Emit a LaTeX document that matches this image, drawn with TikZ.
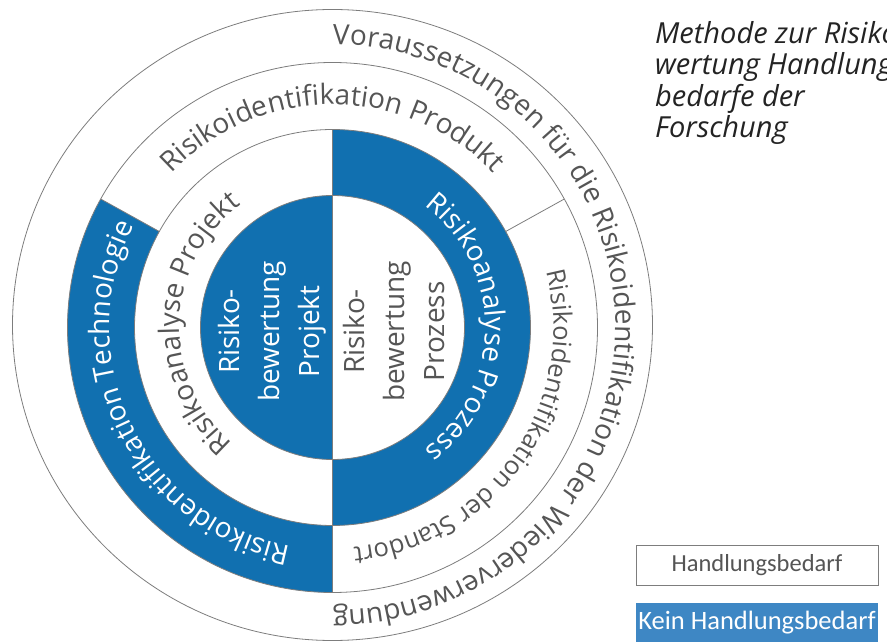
\documentclass[tikz,border=0pt]{standalone}
\usepackage{fontspec}
\setmainfont{Open Sans}
\newfontfamily\legendfont{Carlito}
\usetikzlibrary{decorations.text}
\definecolor{ringblue}{RGB}{17,112,176}
\definecolor{legendblue}{RGB}{62,135,196}
\definecolor{txtgray}{RGB}{85,85,85}
\definecolor{linegray}{RGB}{125,125,125}
\definecolor{titlegray}{RGB}{35,35,35}
\newcommand\ringfont{\fontsize{28}{34}\selectfont}
\newcommand\smallringfont{\fontsize{25.5}{31}\selectfont}
\begin{document}
\begin{tikzpicture}[x=1pt,y=1pt,
  segline/.style={draw=linegray, line width=0.8pt},
  ringtext/.style 2 args={decorate, decoration={text along path,
      text align=center, text color=#1, text={|\ringfont|#2}}},
  smallringtext/.style 2 args={decorate, decoration={text along path,
      text align=center, text color=#1, text={|\smallringfont|#2}}},
  coretext/.style={rotate=90, align=center, inner sep=0pt,
      font=\fontsize{28}{40}\selectfont},
  legbox/.style={minimum width=242pt, minimum height=40pt, inner sep=0pt,
      font=\legendfont\fontsize{24.5}{28}\selectfont}
]
\useasboundingbox (0,0) rectangle (887,641);

\begin{scope}[shift={(332.5,313.5)}]
  % blue segments
  \fill[ringblue] (151:265) arc[start angle=151, end angle=270, radius=265]
     -- (270:198) arc[start angle=270, end angle=151, radius=198] -- cycle;
  \fill[ringblue] (-90:198) arc[start angle=-90, end angle=90, radius=198]
     -- (90:132) arc[start angle=90, end angle=-90, radius=132] -- cycle;
  \fill[ringblue] (0,0) -- (90:132) arc[start angle=90, end angle=270, radius=132] -- cycle;

  % ring outlines and dividers
  \draw[segline] (0,0) circle[radius=132];
  \draw[segline] (0,0) circle[radius=198];
  \draw[segline] (0,0) circle[radius=265];
  \draw[segline] (0,2.5) ellipse[x radius=320, y radius=315.5];
  \draw[segline] (90:198) -- (270:265);
  \draw[segline] (151:198) -- (151:265);
  \draw[segline] (29:198) -- (29:265);

  % texts set along the rings
  \path[ringtext={txtgray}{Voraussetzungen für die Risikoidentifikation der Wiederverwendung}]
     (100:283) arc[start angle=100, end angle=-100, radius=283];
  \path[ringtext={txtgray}{Risikoidentifikation Produkt}]
     (150:223) arc[start angle=150, end angle=30, radius=223];
  \path[smallringtext={txtgray}{Risikoidentifikation der Standort}]
     (25:221) arc[start angle=25, end angle=-95, radius=221];
  \path[ringtext={white}{Risikoidentifikation Technologie}]
     (266:223) arc[start angle=266, end angle=146, radius=223];
  \path[ringtext={txtgray}{Risikoanalyse Projekt}]
     (240:153) arc[start angle=240, end angle=116, radius=153];
  \path[ringtext={white}{Risikoanalyse Prozess}]
     (62:153) arc[start angle=62, end angle=-62, radius=153];

  % core halves
  \node[coretext, text=white] (projekt) at (-60,-4) {Risiko-\\bewertung\\Projekt};
  \node[coretext, text=txtgray] (prozess) at (61,-4) {Risiko-\\bewertung\\Prozess};
\end{scope}

% heading
\node[anchor=north west, align=left, inner sep=0pt, text=titlegray,
      font=\itshape\fontsize{29}{31.5}\selectfont] (title) at (655,620)
  {Methode zur Risiko\\wertung Handlung\\bedarfe der\\Forschung};

% legend
\node[legbox, draw=linegray, line width=0.8pt, fill=white, text=txtgray] (need) at (757,76) {Handlungsbedarf};
\node[legbox, fill=legendblue, text=white, font=\legendfont\fontsize{26.5}{30}\selectfont] (noneed) at (757,18) {Kein Handlungsbedarf};
\end{tikzpicture}
\end{document}
